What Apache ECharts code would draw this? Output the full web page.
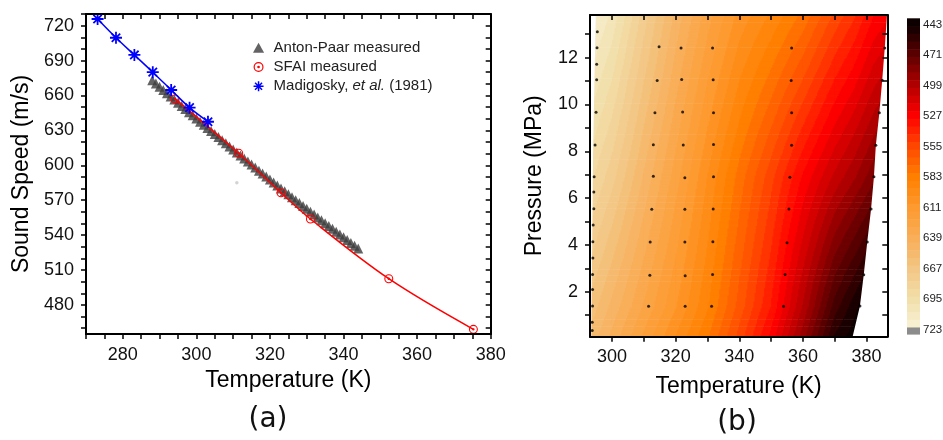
<!DOCTYPE html>
<html><head><meta charset="utf-8">
<script src="https://cdn.jsdelivr.net/npm/echarts@6/dist/echarts.min.js"></script>
<style>html,body{margin:0;padding:0;background:#fff}#c{width:943px;height:440px}</style>
</head><body><div id="c"></div>
<script>
// ---------------- Panel (a) data ----------------
const madigoskyT = [273.15, 278.15, 283.15, 288.15, 293.15, 298.15, 303.15];
const madigoskyC = [725.7, 709.6, 694.8, 680.0, 664.7, 649.5, 637.4];
const sfaiT = [294.2, 311.5, 323.0, 331.0, 352.3, 375.3];
const sfaiC = [657.0, 610.3, 576.4, 553.8, 502.5, 459.0];
const antonT = [288,289,290,291,292,293,294,295,296,297,298,299,300,301,302,303,304,305,306,307,308,309,310,311,312,313,314,315,316,317,318,319,320,321,322,323,324,325,326,327,328,329,330,331,332,333,334,335,336,337,338,339,340,341,342,343,344];
const antonC = [673.0,670.2,667.5,664.7,662.0,659.2,656.5,653.7,651.0,648.3,645.6,642.9,640.2,637.5,634.8,632.1,629.5,626.8,624.2,621.5,618.9,616.2,613.6,611.0,608.4,605.8,603.2,600.6,598.0,595.4,592.9,590.3,587.7,585.2,582.6,580.1,577.6,575.1,572.5,570.0,567.5,565.0,562.6,560.1,557.6,555.1,552.7,550.2,547.8,545.4,542.9,540.5,538.1,535.7,533.3,530.9,528.5];
const strayT = [311.0];
const strayC = [585.0];
const aXLabels = [280, 300, 320, 340, 360, 380];
const aXTicks = [270,275,280,285,290,295,300,305,310,315,320,325,330,335,340,345,350,355,360,365,370,375,380];
const aYLabels = [480, 510, 540, 570, 600, 630, 660, 690, 720];
const aYTicks = [460,470,480,490,500,510,520,530,540,550,560,570,580,590,600,610,620,630,640,650,660,670,680,690,700,710,720,730];

// ---------------- Panel (b) data ----------------
const contourT = [293.1, 300, 310, 320, 330, 340, 350, 360, 370, 376, 382, 386.5];
const contourP = [0.08, 1.38, 6.9, 13.82];
const speedRowP008  = [655, 641, 620, 600, 580, 555, 527, 490, 450, 440, 425, 415];
const speedRowP138  = [662, 648, 628, 608, 587, 562, 536, 500, 462, 447, 433, 425];
const speedRowP690  = [688, 674, 649, 625, 600, 576, 553, 528, 506, 495, 482, 474];
const speedRowP1382 = [718, 705, 675, 648, 625, 605, 592, 577, 556, 545, 530, 524];
const speedRows = [speedRowP008, speedRowP138, speedRowP690, speedRowP1382];

const dotsColA_T = [295.4,295.3,295.2,295.2,295.0,294.7,294.4,294.3,294.3,294.1,294.0,294.0,293.9,293.9,293.9,293.8,293.8];
const dotsColA_P = [13.1,12.42,11.72,11.05,9.67,8.27,6.91,6.26,5.55,4.85,4.14,3.44,2.74,2.10,1.39,0.70,0.35];
const dotsColB_T = [314.8,314.2,313.5,313.0,313.0,312.5,312.0,311.9,311.5];
const dotsColB_P = [12.46,11.02,9.64,8.28,6.93,5.52,4.12,2.70,1.38];
const dotsColC_T = [321.7,321.9,322.2,322.4,322.9,322.9,322.9,323.0,323.0];
const dotsColC_P = [12.41,11.06,9.68,8.27,6.87,5.52,4.12,2.68,1.38];
const dotsColD_T = [331.6,331.8,331.9,331.9,331.9,331.8,331.7,331.6,331.3];
const dotsColD_P = [12.41,11.05,9.64,8.29,6.91,5.53,4.14,2.74,1.38];
const dotsColE_T = [356.45,356.3,356.45,356.45,355.9,355.6,355.0,354.4,353.9];
const dotsColE_P = [12.41,11.02,9.64,8.26,6.89,5.53,4.09,2.74,1.38];
const dotsColF_T = [385.7,384.9,384.0,382.9,382.3,381.4,380.2,379.1,377.9];
const dotsColF_P = [12.41,11.03,9.65,8.26,6.91,5.53,4.12,2.73,1.39];

const rightEdgeT = [375.6,377.9,379.1,380.2,381.4,382.3,382.9,384.0,384.9,385.7,386.4];
const rightEdgeP = [0.08,1.39,2.73,4.12,5.53,6.91,8.26,9.65,11.03,12.41,13.82];
const leftEdgeT = [293.5, 294.1, 294.9];
const leftEdgeP = [0.08, 8.27, 13.82];

const bXLabels = [300, 320, 340, 360, 380];
const bXTicks = [300, 310, 320, 330, 340, 350, 360, 370, 380];
const bYLabels = [2, 4, 6, 8, 10, 12];
const bYTicks = [1,2,3,4,5,6,7,8,9,10,11,12,13];

const levelLabels = [443, 471, 499, 527, 555, 583, 611, 639, 667, 695, 723];
const rampValues = [443, 471, 499, 527, 555, 583, 611, 639, 667, 695, 723];
const rampColors = ['#0d0000','#5e0000','#b30000','#ff0000','#ff4800','#ff8000','#fd9a30','#f9ae58','#f3c685','#f2dfaa','#f8f3da'];
const bandStart = 437, bandStep = 7.1, bandCount = 40, grayFrom = 721, barMax = 727;
const grayColor = '#8c8c8c';

// ---------------- helpers ----------------
function hex2rgb(h){return [parseInt(h.slice(1,3),16),parseInt(h.slice(3,5),16),parseInt(h.slice(5,7),16)];}
const rampRgb = rampColors.map(hex2rgb);
function ramp(v){
  if (v <= rampValues[0]) return rampColors[0];
  const n = rampValues.length;
  if (v >= rampValues[n-1]) return rampColors[n-1];
  let i = 0; while (v > rampValues[i+1]) i++;
  const t = (v - rampValues[i])/(rampValues[i+1]-rampValues[i]);
  const a = rampRgb[i], b = rampRgb[i+1];
  return 'rgb(' + [0,1,2].map(k=>Math.round(a[k]+(b[k]-a[k])*t)).join(',') + ')';
}
const bandColors = [];
for (let k=0;k<bandCount;k++) bandColors.push(ramp(bandStart + (k+0.5)*bandStep));
function bandColor(v){
  if (v >= grayFrom) return grayColor;
  let k = Math.floor((v - bandStart)/bandStep);
  if (k < 0) k = 0; if (k >= bandCount) k = bandCount-1;
  return bandColors[k];
}

const font = 'Liberation Sans';
const asteriskPath = 'path://M8.5 0L11.5 0L11.5 20L8.5 20Z M0 8.5L20 8.5L20 11.5L0 11.5Z M4.06 1.94L18.06 15.94L15.94 18.06L1.94 4.06Z M15.94 1.94L18.06 4.06L4.06 18.06L1.94 15.94Z';
const ringPath = 'path://M10 0A10 10 0 1 1 10 20A10 10 0 1 1 10 0Z M10 2.4A7.6 7.6 0 1 0 10 17.6A7.6 7.6 0 1 0 10 2.4Z M10 7.3A2.7 2.7 0 1 1 10 12.7A2.7 2.7 0 1 1 10 7.3Z';
const trianglePath = 'path://M5 0L10 9L0 9Z';
const madName = 'Madigosky, et al. (1981)';

function zip(a,b){return a.map((v,i)=>[v,b[i]]);}

// contour cells
const cells = [];
for (let j=0;j<contourP.length-1;j++) for (let i=0;i<contourT.length-1;i++)
  cells.push([(contourT[i]+contourT[i+1])/2, (contourP[j]+contourP[j+1])/2, i, j]);

function renderCell(params, api){
  const i = api.value(2), j = api.value(3);
  const T0 = contourT[i], T1 = contourT[i+1], P0 = contourP[j], P1 = contourP[j+1];
  const c00 = speedRows[j][i], c10 = speedRows[j][i+1], c01 = speedRows[j+1][i], c11 = speedRows[j+1][i+1];
  const pb = api.coord([T0, P0]), pt = api.coord([T1, P1]);
  const x0 = pb[0], x1 = pt[0], yb = pb[1], yt = pt[1];
  const step = 1.2;
  const nx = Math.max(1, Math.ceil((x1-x0)/step)), ny = Math.max(1, Math.ceil((yb-yt)/step));
  const dx = (x1-x0)/nx, dy = (yb-yt)/ny;
  const children = [];
  for (let r=0;r<ny;r++){
    const py = 1 - (r+0.5)/ny;
    let runStart = 0, runColor = null;
    for (let q=0;q<=nx;q++){
      let col = null;
      if (q < nx){
        const fx = (q+0.5)/nx;
        const v = (1-fx)*(1-py)*c00 + fx*(1-py)*c10 + (1-fx)*py*c01 + fx*py*c11;
        col = bandColor(v);
      }
      if (col !== runColor){
        if (runColor !== null){
          children.push({type:'rect', shape:{x:x0+runStart*dx, y:yt+r*dy, width:(q-runStart)*dx+0.7, height:dy+0.7}, style:{fill:runColor}});
        }
        runColor = col; runStart = q;
      }
    }
  }
  return {type:'group', children};
}

function renderMask(params, api){
  const side = api.value(2);
  const pts = [];
  if (side === 1){
    for (let k=0;k<rightEdgeT.length;k++) pts.push(api.coord([rightEdgeT[k], rightEdgeP[k]]));
    pts.push(api.coord([400, rightEdgeP[rightEdgeP.length-1]]));
    pts.push(api.coord([400, rightEdgeP[0]]));
  } else {
    for (let k=0;k<leftEdgeT.length;k++) pts.push(api.coord([leftEdgeT[k], leftEdgeP[k]]));
    pts.push(api.coord([280, leftEdgeP[leftEdgeP.length-1]]));
    pts.push(api.coord([280, leftEdgeP[0]]));
  }
  return {type:'polygon', shape:{points:pts}, style:{fill:'#ffffff'}};
}

const bars = [];
for (let k=0;k<bandCount;k++) bars.push([0.5, bandStart+(k+0.5)*bandStep, k]);
bars.push([0.5, (grayFrom+barMax)/2, -1]);
function renderBar(params, api){
  const k = api.value(2);
  let lo, hi, col;
  if (k < 0){ lo = grayFrom; hi = barMax; col = grayColor; }
  else { lo = bandStart + k*bandStep; hi = lo + bandStep; col = bandColors[k]; }
  const p0 = api.coord([0, lo]), p1 = api.coord([1, hi]);
  return {type:'rect', shape:{x:p0[0], y:Math.min(p0[1],p1[1]), width:p1[0]-p0[0], height:Math.abs(p1[1]-p0[1])+0.6}, style:{fill:col}};
}

const axisLineStyle = {lineStyle:{color:'#000', width:2}};
function mkAxis(o){
  return Object.assign({
    type:'value', splitLine:{show:false}, axisLine:Object.assign({onZero:false, show:true}, axisLineStyle), z:10
  }, o);
}
const labelStyle = {fontSize:18, color:'#111', fontFamily:font};
const nameStyle = {fontSize:23, color:'#000', fontFamily:font};

const option = {
  animation:false,
  backgroundColor:'#fff',
  grid:[
    {left:86, top:14, width:404.7, height:320, outerBoundsMode:'none'},
    {left:590, top:15, width:297.3, height:321.7, outerBoundsMode:'none'},
    {left:907, top:18.3, width:13, height:315.7, outerBoundsMode:'none'}
  ],
  xAxis:[
    mkAxis({gridIndex:0, min:270, max:380, position:'bottom',
      axisTick:{customValues:aXTicks, length:5, lineStyle:{color:'#000', width:1.5}},
      axisLabel:Object.assign({customValues:aXLabels, margin:12}, labelStyle),
      name:'Temperature (K)', nameLocation:'middle', nameGap:32, nameTextStyle:nameStyle}),
    mkAxis({gridIndex:0, min:270, max:380, position:'top',
      axisTick:{customValues:aXTicks, inside:true, length:5, lineStyle:{color:'#000', width:1.5}},
      axisLabel:{show:false}}),
    mkAxis({gridIndex:1, min:293.1, max:386.5, position:'bottom',
      axisTick:{customValues:bXTicks, length:5, lineStyle:{color:'#000', width:1.5}},
      axisLabel:Object.assign({customValues:bXLabels, margin:11}, labelStyle),
      name:'Temperature (K)', nameLocation:'middle', nameGap:38, nameTextStyle:nameStyle}),
    mkAxis({gridIndex:1, min:293.1, max:386.5, position:'top',
      axisTick:{customValues:bXTicks, inside:true, length:5, lineStyle:{color:'#000', width:1.5}},
      axisLabel:{show:false}}),
    {type:'value', gridIndex:2, min:0, max:1, show:false}
  ],
  yAxis:[
    mkAxis({gridIndex:0, min:455, max:730, position:'left',
      axisTick:{customValues:aYTicks, length:5, lineStyle:{color:'#000', width:1.5}},
      axisLabel:Object.assign({customValues:aYLabels, margin:12}, labelStyle),
      name:'Sound Speed (m/s)', nameLocation:'middle', nameGap:53, nameTextStyle:nameStyle}),
    mkAxis({gridIndex:0, min:455, max:730, position:'right',
      axisTick:{customValues:aYTicks, inside:true, length:5, lineStyle:{color:'#000', width:1.5}},
      axisLabel:{show:false}}),
    mkAxis({gridIndex:1, min:0.08, max:13.82, position:'left',
      axisTick:{customValues:bYTicks, length:5, lineStyle:{color:'#000', width:1.5}},
      axisLabel:Object.assign({customValues:bYLabels, margin:12}, labelStyle),
      name:'Pressure (MPa)', nameLocation:'middle', nameGap:44, nameTextStyle:nameStyle}),
    mkAxis({gridIndex:1, min:0.08, max:13.82, position:'right',
      axisTick:{customValues:bYTicks, inside:true, length:5, lineStyle:{color:'#000', width:1.5}},
      axisLabel:{show:false}}),
    {type:'value', gridIndex:2, min:bandStart, max:barMax, inverse:true, position:'right',
      axisLine:{show:false}, axisTick:{show:false}, splitLine:{show:false},
      axisLabel:{customValues:levelLabels, margin:3, fontSize:11.5, color:'#222', fontFamily:font}}
  ],
  legend:{
    left:253, top:40.2, orient:'vertical', padding:0, itemGap:4.3, itemWidth:20, itemHeight:10,
    symbolKeepAspect:true,
    data:[
      {name:'Anton-Paar measured', icon:trianglePath, itemStyle:{color:'#3c3c3c'}},
      {name:'SFAI measured', icon:ringPath},
      {name:madName, icon:asteriskPath}
    ],
    formatter:function(n){ return n === madName ? '{n|Madigosky, }{i|et al.}{n| (1981)}' : '{n|' + n + '}'; },
    textStyle:{fontSize:15, fontFamily:font, color:'#222', lineHeight:15,
      rich:{n:{fontSize:15, fontFamily:font, color:'#222', lineHeight:15},
            i:{fontSize:15, fontFamily:font, color:'#222', fontStyle:'italic', lineHeight:15}}}
  },
  graphic:[
    {type:'text', x:268, y:420, style:{text:'(a)', fontSize:28, fontFamily:'DejaVu Sans', fill:'#111', align:'center', verticalAlign:'middle'}},
    {type:'text', x:737, y:423, style:{text:'(b)', fontSize:28, fontFamily:'DejaVu Sans', fill:'#111', align:'center', verticalAlign:'middle'}}
  ],
  series:[
    {name:'Anton-Paar measured', type:'scatter', xAxisIndex:0, yAxisIndex:0, data:zip(antonT, antonC),
      symbol:'triangle', symbolSize:10, itemStyle:{color:'#3c3c3c'}, z:2},
    {name:'stray', type:'scatter', xAxisIndex:0, yAxisIndex:0, data:zip(strayT, strayC),
      symbol:'circle', symbolSize:3.5, itemStyle:{color:'#c8c8c8'}, z:1, silent:true},
    {name:'SFAI measured', type:'line', xAxisIndex:0, yAxisIndex:0, data:zip(sfaiT, sfaiC),
      smooth:0.35, symbol:ringPath, symbolSize:9, showSymbol:true,
      itemStyle:{color:'#ff0000'}, lineStyle:{color:'#ff0000', width:1.5}, z:3},
    {name:madName, type:'line', xAxisIndex:0, yAxisIndex:0, data:zip(madigoskyT, madigoskyC),
      smooth:0.3, symbol:asteriskPath, symbolSize:12, showSymbol:true,
      itemStyle:{color:'#0000ff'}, lineStyle:{color:'#0000ff', width:1.5}, z:4},
    {name:'contour', type:'custom', xAxisIndex:2, yAxisIndex:2, data:cells, renderItem:renderCell, clip:true, silent:true, z:1},
    {name:'mask', type:'custom', xAxisIndex:2, yAxisIndex:2, data:[[390,7,1],[290,7,0]], renderItem:renderMask, clip:true, silent:true, z:2},
    {name:'points', type:'scatter', xAxisIndex:2, yAxisIndex:2,
      data:[].concat(zip(dotsColA_T,dotsColA_P), zip(dotsColB_T,dotsColB_P), zip(dotsColC_T,dotsColC_P),
                     zip(dotsColD_T,dotsColD_P), zip(dotsColE_T,dotsColE_P), zip(dotsColF_T,dotsColF_P)),
      symbol:'circle', symbolSize:3, itemStyle:{color:'#000'}, z:3, silent:true},
    {name:'colorbar', type:'custom', xAxisIndex:4, yAxisIndex:4, data:bars, renderItem:renderBar, silent:true}
  ]
};
const chart = echarts.init(document.getElementById('c'), null, {renderer:'canvas'});
chart.setOption(option);
</script></body></html>
